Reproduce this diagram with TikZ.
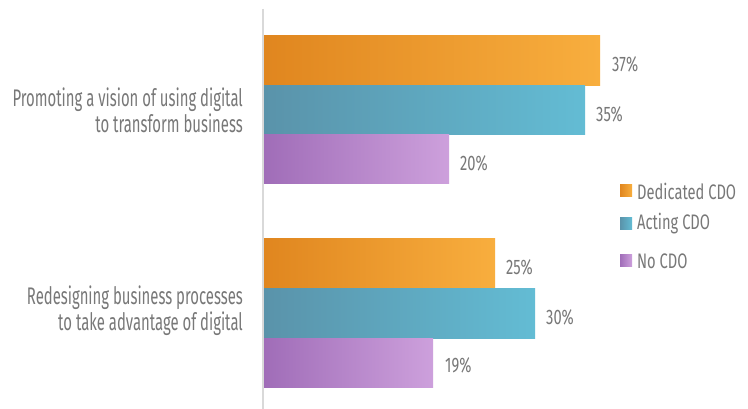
\documentclass[tikz,border=0pt]{standalone}
\usepackage{fontspec}
\setmainfont[FakeStretch=0.62]{Fira Sans}
\newfontfamily\widerfont[FakeStretch=0.7]{Fira Sans}
\usetikzlibrary{positioning}
\definecolor{txtgray}{HTML}{787878}
\definecolor{axisgray}{HTML}{D9D9D9}
\definecolor{orA}{HTML}{E0861F}\definecolor{orB}{HTML}{F8AE3E}
\definecolor{blA}{HTML}{5A93AA}\definecolor{blB}{HTML}{63BCD4}
\definecolor{puA}{HTML}{A06DB8}\definecolor{puB}{HTML}{CDA0DC}
\tikzset{
  dedbar/.style={left color=orA,right color=orB,draw=none},
  actbar/.style={left color=blA,right color=blB,draw=none},
  nobar/.style={left color=puA,right color=puB,draw=none},
  vallab/.style={anchor=west,text=txtgray,font=\widerfont\fontsize{21}{21}\selectfont,inner sep=0pt},
  catlab/.style={anchor=east,align=right,text=txtgray,font=\fontsize{24}{26}\selectfont,inner sep=0pt},
  leglab/.style={anchor=west,text=txtgray,font=\widerfont\fontsize{21}{21}\selectfont,inner sep=0pt},
}
\begin{document}
\begin{tikzpicture}[x=1pt,y=-1pt]
\useasboundingbox[fill=white] (0,0) rectangle (748,409);
\draw[axisgray,line width=2pt] (263,9) -- (263,409);
% group 1
\shade[dedbar] (264,36) rectangle (600,86);
\shade[actbar] (264,86) rectangle (585,135);
\shade[nobar] (264,135) rectangle (449,184);
\node[vallab] (v1) at (612,64) {37\%};
\node[vallab] (v2) at (596,114) {35\%};
\node[vallab] (v3) at (460,163) {20\%};
% group 2
\shade[dedbar] (264,239) rectangle (495,289);
\shade[actbar] (264,289) rectangle (535,338);
\shade[nobar] (264,338) rectangle (433,387);
\node[vallab] (v4) at (506,267) {25\%};
\node[vallab] (v5) at (546,317) {30\%};
\node[vallab] (v6) at (445,365) {19\%};
% categories
\node[catlab] (c1) at (243,110) {Promoting a vision of using digital\\to transform business};
\node[catlab] (c2) at (243,311) {Redesigning business processes\\to take advantage of digital};
% legend
\shade[dedbar] (620,185) rectangle (632,197);
\shade[actbar] (620,218) rectangle (632,230);
\shade[nobar] (620,255) rectangle (632,267);
\node[leglab] (l1) at (637,191) {Dedicated CDO};
\node[leglab] (l2) at (637,224) {Acting CDO};
\node[leglab] (l3) at (637,261) {No CDO};
\end{tikzpicture}
\end{document}
